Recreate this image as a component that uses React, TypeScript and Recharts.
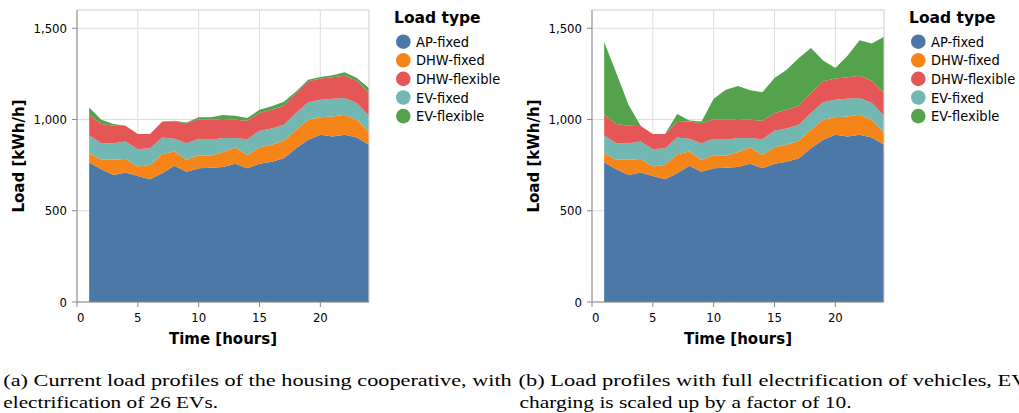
import React from 'react';
import { AreaChart, Area, XAxis, YAxis, CartesianGrid, ReferenceLine } from 'recharts';

// ---------- data ----------
const hours = [1, 2, 3, 4, 5, 6, 7, 8, 9, 10, 11, 12, 13, 14, 15, 16, 17, 18, 19, 20, 21, 22, 23, 24];
const apFixed = [764, 728, 696, 709, 691, 673, 705, 746, 714, 733, 735, 740, 758, 733, 757, 768, 788, 843, 889, 916, 907, 916, 901, 861];
const dhwFixed = [51, 51, 83, 75, 51, 78, 105, 78, 65, 71, 67, 82, 88, 73, 91, 93, 95, 101, 109, 97, 110, 110, 97, 68];
const evFixed = [97, 91, 91, 95, 95, 92, 91, 70, 91, 90, 87, 77, 52, 86, 90, 90, 88, 91, 96, 95, 97, 92, 92, 91];
const dhwFlexible = [114, 105, 96, 85, 83, 77, 85, 95, 110, 108, 109, 104, 100, 101, 97, 102, 104, 110, 115, 116, 117, 122, 123, 125];
const evFlexibleA = [40, 23, 9, 2, 1, 1, 3, 4, 4, 11, 15, 21, 22, 15, 18, 19, 22, 9, 9, 9, 11, 19, 15, 28];
const evFlexibleB = [399, 280, 115, 2, 0, 0, 44, 6, 9, 112, 165, 181, 162, 156, 193, 220, 262, 247, 114, 58, 119, 194, 203, 308];

const xTicks = [0, 5, 10, 15, 20];
const yTicks = [0, 500, 1000, 1500];

const stackOrder = ['AP-fixed', 'DHW-fixed', 'EV-fixed', 'DHW-flexible', 'EV-flexible'];
const legendOrder = ['AP-fixed', 'DHW-fixed', 'DHW-flexible', 'EV-fixed', 'EV-flexible'];
const colors: Record<string, string> = {
  'AP-fixed': '#4c78a8',
  'DHW-fixed': '#f58518',
  'DHW-flexible': '#e45756',
  'EV-fixed': '#72b7b2',
  'EV-flexible': '#54a24b',
};

const captionA = ['(a) Current load profiles of the housing cooperative, with', 'electrification of 26 EVs.'];
const captionB = ['(b) Load profiles with full electrification of vehicles, EV', 'charging is scaled up by a factor of 10.'];

function buildRows(evFlex: number[]) {
  return hours.map((h, i) => ({
    hour: h,
    'AP-fixed': apFixed[i],
    'DHW-fixed': dhwFixed[i],
    'EV-fixed': evFixed[i],
    'DHW-flexible': dhwFlexible[i],
    'EV-flexible': evFlex[i],
  }));
}

const dataA = buildRows(evFlexibleA);
const dataB = buildRows(evFlexibleB);

// ---------- styles ----------
const SANS = '"DejaVu Sans Condensed", "DejaVu Sans", Verdana, sans-serif';
const BOLD = '"DejaVu Sans", Verdana, sans-serif';
const SERIF = '"Liberation Serif", "DejaVu Serif", serif';
const AXIS = '#888';
const GRID = '#ddd';

const fmt = (v: number) => v.toLocaleString('en-US');

function XTick(props: any) {
  const { x, y, payload } = props;
  const v = payload?.value;
  return (
    <text x={x} y={y} dy="0.71em" textAnchor={v === 0 ? 'start' : 'middle'}
      fontFamily={SANS} fontSize={13} fill="#000">
      {String(v)}
    </text>
  );
}

function YTitle(props: any) {
  const vb = props.viewBox || { x: 0, y: 10, width: 77, height: 292 };
  const cx = vb.x + 19;
  const cy = vb.y + vb.height / 2;
  return (
    <text x={cx} y={cy} transform={`rotate(-90 ${cx} ${cy})`} textAnchor="middle" dominantBaseline="central"
      fontFamily={BOLD} fontWeight="bold" fontSize={15} fill="#000">
      Load [kWh/h]
    </text>
  );
}

function XTitle(props: any) {
  const vb = props.viewBox || { x: 77, y: 302, width: 292, height: 58 };
  return (
    <text x={vb.x + vb.width / 2} y={vb.y + 42} textAnchor="middle"
      fontFamily={BOLD} fontWeight="bold" fontSize={15} fill="#000">
      Time [hours]
    </text>
  );
}

function LoadChart({ data, left }: { data: any[]; left: number }) {
  return (
    <div style={{ position: 'absolute', left, top: 0 }}>
      <AreaChart width={380} height={360} data={data} margin={{ top: 10, right: 11, bottom: 0, left: 0 }}>
        <CartesianGrid stroke={GRID} strokeWidth={1} />
        <XAxis
          type="number"
          dataKey="hour"
          domain={[0, 24]}
          ticks={xTicks}
          interval={0}
          height={58}
          tickSize={5}
          tickMargin={6}
          stroke={AXIS}
          tickLine={{ stroke: AXIS }}
          axisLine={{ stroke: AXIS }}
          tick={<XTick />}
          label={{ content: (p: any) => <XTitle {...p} /> }}
        />
        <YAxis
          type="number"
          domain={[0, 1600]}
          ticks={yTicks}
          interval={0}
          width={77}
          tickSize={5}
          tickMargin={5}
          stroke={AXIS}
          tickLine={{ stroke: AXIS }}
          axisLine={{ stroke: AXIS }}
          tickFormatter={fmt}
          tick={{ fill: '#000', fontSize: 13, fontFamily: SANS }}
          label={{ content: (p: any) => <YTitle {...p} /> }}
        />
        {stackOrder.map((name) => (
          <Area
            key={name}
            type="linear"
            dataKey={name}
            stackId="load"
            stroke="none"
            fill={colors[name]}
            fillOpacity={1}
            dot={false}
            activeDot={false}
            isAnimationActive={false}
          />
        ))}
        <ReferenceLine y={1600} stroke={GRID} strokeWidth={1} />
        <ReferenceLine x={24} stroke={GRID} strokeWidth={1} />
      </AreaChart>
    </div>
  );
}

function LegendBox({ left }: { left: number }) {
  return (
    <svg width={131} height={130} style={{ position: 'absolute', left, top: 0 }}>
      <text x={6} y={22.7} fontFamily={BOLD} fontWeight="bold" fontSize={15.5} fill="#000">Load type</text>
      {legendOrder.map((name, i) => {
        const cy = 41.7 + 18.6 * i;
        return (
          <g key={name}>
            <circle cx={15.3} cy={cy} r={7.3} fill={colors[name]} />
            <text x={28} y={cy} dominantBaseline="central" fontFamily={SANS} fontSize={14.5} fill="#000">{name}</text>
          </g>
        );
      })}
    </svg>
  );
}

function Captions() {
  return (
    <svg width={1019} height={53} style={{ position: 'absolute', left: 0, top: 360 }}>
      <text x={3.3} y={25.7} fontFamily={SERIF} fontSize={17} textLength={508.4} lengthAdjust="spacingAndGlyphs" fill="#000">{captionA[0]}</text>
      <text x={3.3} y={47.7} fontFamily={SERIF} fontSize={17} textLength={214.7} lengthAdjust="spacingAndGlyphs" fill="#000">{captionA[1]}</text>
      <text x={518.5} y={25.7} fontFamily={SERIF} fontSize={17} textLength={509} lengthAdjust="spacingAndGlyphs" fill="#000">{captionB[0]}</text>
      <text x={519.5} y={47.7} fontFamily={SERIF} fontSize={17} textLength={332} lengthAdjust="spacingAndGlyphs" fill="#000">{captionB[1]}</text>
    </svg>
  );
}

export default function App() {
  return (
    <div style={{ position: 'absolute', left: 0, top: 0, width: 1019, height: 413, overflow: 'hidden', background: '#fff' }}>
      <LoadChart data={dataA} left={0} />
      <LegendBox left={388} />
      <LoadChart data={dataB} left={515} />
      <LegendBox left={903} />
      <Captions />
    </div>
  );
}
